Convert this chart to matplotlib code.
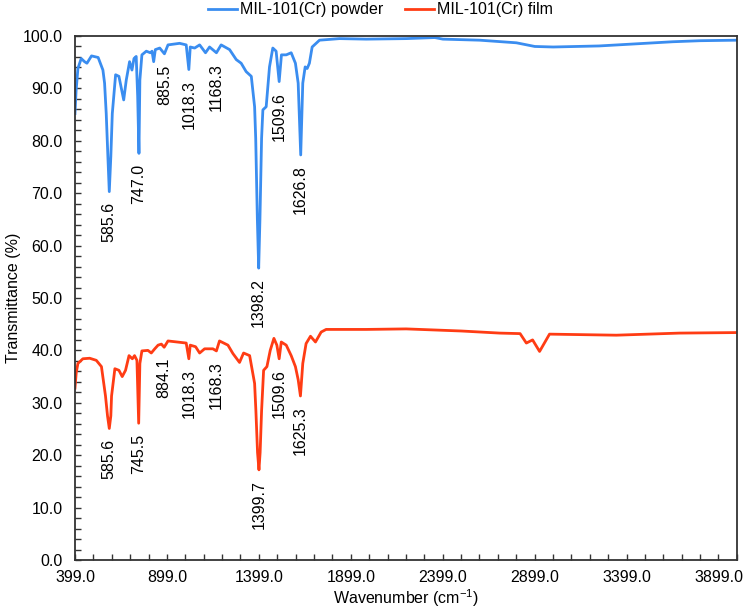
import numpy as np
import matplotlib
matplotlib.use("Agg")
import matplotlib.pyplot as plt
from matplotlib.ticker import FixedLocator, MultipleLocator, FormatStrFormatter

plt.rcParams["font.family"] = ["Liberation Sans", "DejaVu Sans"]
plt.rcParams["mathtext.fontset"] = "custom"
plt.rcParams["mathtext.rm"] = "Liberation Sans"
plt.rcParams["mathtext.it"] = "Liberation Sans:italic"

# MIL-101(Cr) powder
wn_powder = [399, 405, 415, 433, 451, 464, 489, 525, 551, 560, 569, 578, 585.6, 594, 602,
             620, 638, 664, 678, 696, 709, 720, 732, 740, 747.0, 752, 763, 787, 809, 818,
             827, 836, 860, 885.5, 905, 968, 1004, 1018.3, 1026, 1050, 1077, 1109, 1131,
             1168.3, 1194, 1240, 1276, 1303, 1330, 1358, 1376, 1382, 1391, 1398.2, 1405,
             1414, 1421, 1439, 1457, 1475, 1493, 1509.6, 1522, 1548, 1575, 1598, 1613,
             1626.8, 1638, 1651, 1662, 1674, 1689, 1729, 1838, 1983, 2200, 2356, 2400,
             2600, 2800, 2900, 3000, 3250, 3500, 3650, 3800, 4000]
t_powder = [85.2, 89.5, 93.8, 95.7, 95.1, 94.8, 96.2, 95.9, 93.5, 91.0, 85.2, 77.0, 70.3, 77.0, 85.2,
            92.6, 92.3, 87.8, 91.6, 95.1, 93.5, 95.7, 96.1, 88.5, 77.6, 91.6, 96.4, 97.1, 96.8, 97.1,
            95.1, 97.4, 97.7, 96.6, 98.3, 98.6, 98.3, 93.6, 97.9, 97.7, 98.3, 96.8, 97.9,
            96.8, 98.3, 97.4, 95.5, 94.8, 93.2, 92.3, 86.5, 80.5, 65.0, 55.7, 65.0,
            80.5, 85.9, 86.5, 94.1, 97.7, 97.1, 91.3, 96.4, 96.4, 96.8, 94.8, 91.0,
            77.3, 91.0, 94.1, 93.8, 94.8, 97.9, 99.2, 99.5, 99.4, 99.5, 99.7, 99.4,
            99.2, 98.7, 98.0, 97.9, 98.1, 98.6, 98.9, 99.1, 99.2]

# MIL-101(Cr) film
wn_film = [399, 406, 415, 442, 479, 515, 543, 565, 576, 585.6, 594, 598, 616, 638, 656, 674,
           693, 711, 723, 736, 745.5, 752, 763, 796, 814, 833, 851, 869, 884.1, 905, 1004,
           1018.3, 1026, 1055, 1077, 1104, 1149, 1168.3, 1185, 1231, 1258, 1294, 1316,
           1349, 1376, 1383, 1392, 1399.7, 1406, 1414, 1425, 1443, 1461, 1481, 1497, 1509.6,
           1521, 1548, 1575, 1598, 1613, 1625.3, 1638, 1656, 1680, 1707, 1738, 1765, 1983,
           2200, 2500, 2709, 2820, 2854, 2888, 2926, 2980, 3343, 3687, 4000]
t_film = [32.8, 35.8, 37.5, 38.4, 38.5, 38.1, 36.9, 31.3, 27.5, 25.1, 27.5, 31.3, 36.5, 36.2, 35.0, 36.2,
          39.0, 38.4, 39.0, 38.1, 26.1, 37.5, 39.9, 40.0, 39.5, 40.3, 41.0, 41.2, 40.6, 41.8, 41.4,
          38.4, 41.0, 40.7, 39.5, 40.3, 40.3, 39.9, 41.8, 41.0, 39.4, 37.7, 39.5,
          39.0, 33.7, 28.5, 20.5, 17.2, 20.5, 28.5, 36.2, 36.9, 40.0, 42.3, 41.0, 38.4,
          41.6, 41.0, 39.0, 36.9, 34.4, 31.3, 37.5, 41.3, 42.7, 41.6, 43.5, 44.0, 44.0,
          44.1, 43.7, 43.3, 43.2, 41.4, 42.0, 39.8, 43.1, 42.9, 43.3, 43.4]

powder_peaks = [585.6, 747.0, 885.5, 1018.3, 1168.3, 1398.2, 1509.6, 1626.8]
film_peaks = [585.6, 745.5, 884.1, 1018.3, 1168.3, 1399.7, 1509.6, 1625.3]

BLUE = "#3A8DF0"
RED = "#FF3C14"

fig = plt.figure(figsize=(7.46, 6.10), dpi=100)
ax = fig.add_axes([0.1005, 0.082, 0.8875, 0.859])

ax.plot(wn_powder, t_powder, color=BLUE, lw=2.0, label="MIL-101(Cr) powder")
ax.plot(wn_film, t_film, color=RED, lw=2.0, label="MIL-101(Cr) film")

for wn, t, peaks in [(wn_powder, t_powder, powder_peaks), (wn_film, t_film, film_peaks)]:
    for p in peaks:
        y = np.interp(p, wn, t) - 2.0
        ax.text(p, y, f"{p:.1f}", rotation=90, ha="center", va="top", fontsize=11.5)

ax.set_xlim(399, 4000)
ax.set_ylim(0, 100)
ax.xaxis.set_major_locator(FixedLocator(np.arange(399, 4000, 500)))
ax.xaxis.set_minor_locator(FixedLocator(np.arange(399, 4000, 100)))
ax.xaxis.set_major_formatter(FormatStrFormatter("%.1f"))
ax.yaxis.set_major_locator(MultipleLocator(10))
ax.yaxis.set_minor_locator(MultipleLocator(2))
ax.yaxis.set_major_formatter(FormatStrFormatter("%.1f"))

ax.tick_params(which="both", direction="in", length=4, width=1, color="#333333",
               labelsize=11.5)
ax.tick_params(axis="y", pad=9)
ax.tick_params(axis="x", pad=7)
for s in ax.spines.values():
    s.set_color("#333333")
    s.set_linewidth(1.3)

ax.set_xlabel("Wavenumber (cm$^{-1}$)", fontsize=11.5, labelpad=2)
ax.set_ylabel("Transmittance (%)", fontsize=11.5, labelpad=1)

fig.legend(loc="upper center", bbox_to_anchor=(0.51, 1.02), ncol=2, frameon=False,
           fontsize=11.5, handlelength=1.8, handletextpad=0.2, columnspacing=1.4)

fig.savefig("out.png", dpi=100)
